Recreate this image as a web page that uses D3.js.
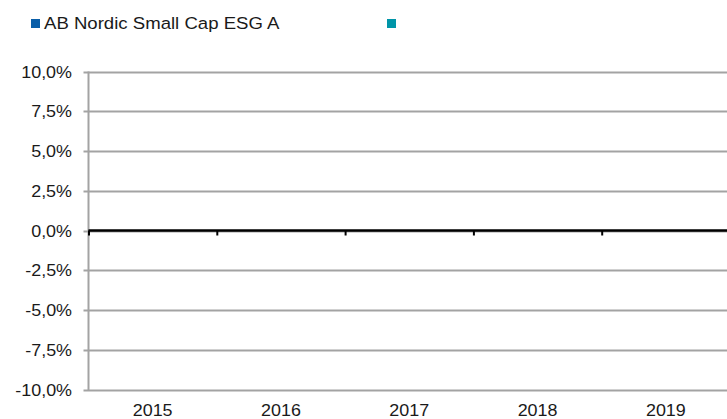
<!DOCTYPE html>
<html lang="en">
<head>
<meta charset="utf-8">
<title>AB Nordic Small Cap ESG A</title>
<script src="https://d3js.org/d3.v7.min.js"></script>
<style>
  body { margin: 0; background: #fff; }
  text { font-family: Arial, "Liberation Sans", sans-serif; fill: #1a1a1a; }
</style>
</head>
<body>
<div id="chart"></div>
<script>
// data (no bars visible, all values zero)
var years = ["2015", "2016", "2017", "2018", "2019"]
var fundValues = [0, 0, 0, 0, 0]
var indexValues = [0, 0, 0, 0, 0]
var seriesNames = ["AB Nordic Small Cap ESG A", ""]
var seriesColors = ["#0a5ea8", "#0095a8"]
var yTicks = [-0.10, -0.075, -0.05, -0.025, 0, 0.025, 0.05, 0.075, 0.10]

var w = 727, h = 419
var plotLeft = 88.5, plotRight = 730, plotTop = 71.5, plotBottom = 389.5
var stretch = 1.12  // text in the picture is a bit wider than plain Arial

var svg = d3.select("#chart").append("svg")
  .attr("width", w).attr("height", h)

var x = d3.scaleBand().domain(years).range([plotLeft, plotRight])
var x2 = d3.scaleBand().domain([0, 1]).range([0, x.bandwidth()]).paddingInner(0.1).paddingOuter(0.4)
var y = d3.scaleLinear().domain([-0.10, 0.10]).range([plotBottom, plotTop])

var fmt = function(d) { return d3.format(".1%")(d).replace(".", ",").replace("−", "-") }

// gridlines
svg.append("g").selectAll("line")
  .data(yTicks)
  .enter().append("line")
  .attr("x1", plotLeft - 5).attr("x2", w)
  .attr("y1", function(d) { return Math.round(y(d)) + 0.5 })
  .attr("y2", function(d) { return Math.round(y(d)) + 0.5 })
  .style("stroke", "#a3a3a3").style("stroke-width", 2)

// y axis line
svg.append("line")
  .attr("x1", plotLeft).attr("x2", plotLeft)
  .attr("y1", plotTop).attr("y2", plotBottom + 1)
  .style("stroke", "#a3a3a3").style("stroke-width", 2)

// y labels
svg.append("g").selectAll("text")
  .data(yTicks)
  .enter().append("text")
  .attr("transform", function(d) { return "translate(72," + (y(d) + 6) + ") scale(" + stretch + ",1)" })
  .attr("text-anchor", "end")
  .style("font-size", "16px")
  .text(fmt)

// bars (all zero)
var series = [fundValues, indexValues]
series.forEach(function(vals, s) {
  svg.append("g").selectAll("rect")
    .data(vals)
    .enter().append("rect")
    .attr("x", function(d, i) { return x(years[i]) + x2(s) })
    .attr("width", x2.bandwidth())
    .attr("y", function(d) { return y(Math.max(0, d)) })
    .attr("height", function(d) { return Math.abs(y(d) - y(0)) })
    .style("fill", seriesColors[s])
})

// zero line with category ticks
svg.append("line")
  .attr("x1", plotLeft).attr("x2", w)
  .attr("y1", y(0)).attr("y2", y(0))
  .style("stroke", "#000").style("stroke-width", 2.5)

svg.append("g").selectAll("line")
  .data(years)
  .enter().append("line")
  .attr("x1", function(d) { return x(d) + 0.5 })
  .attr("x2", function(d) { return x(d) + 0.5 })
  .attr("y1", y(0)).attr("y2", y(0) + 5)
  .style("stroke", "#000").style("stroke-width", 2)

// x labels
svg.append("g").selectAll("text")
  .data(years)
  .enter().append("text")
  .attr("transform", function(d) { return "translate(" + (x(d) + x.bandwidth() / 2) + ",416) scale(" + stretch + ",1)" })
  .attr("text-anchor", "middle")
  .style("font-size", "16px")
  .text(function(d) { return d })

// legend
var legendX = [31, 387]
seriesNames.forEach(function(name, i) {
  svg.append("rect")
    .attr("x", legendX[i]).attr("y", 19)
    .attr("width", 9).attr("height", 9)
    .style("fill", seriesColors[i])
  svg.append("text")
    .attr("transform", "translate(" + (legendX[i] + 13) + ",29) scale(" + stretch + ",1)")
    .style("font-size", "16.6px")
    .text(name)
})
</script>
</body>
</html>
